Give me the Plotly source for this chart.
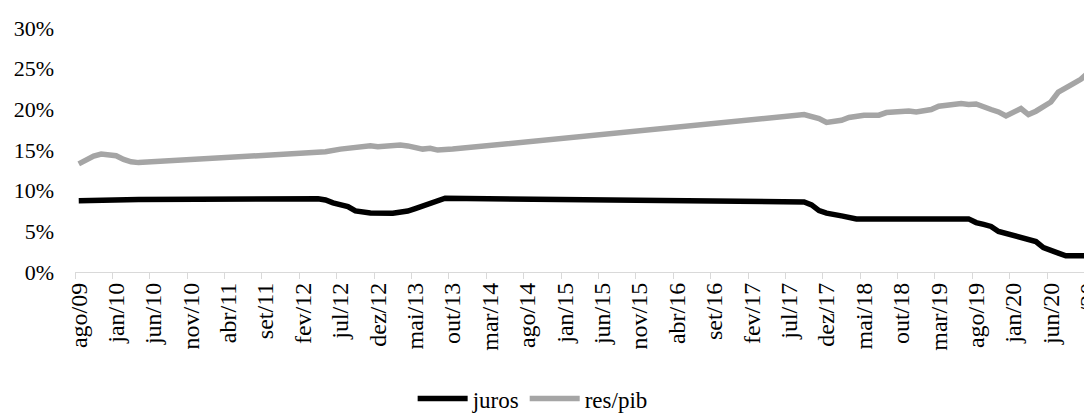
import plotly.graph_objects as go

# month categories (ago/09 .. nov/20)
mes_abrev = ["jan", "fev", "mar", "abr", "mai", "jun", "jul", "ago", "set", "out", "nov", "dez"]
categorias = []
for k in range(7, 7 + 136):
    categorias.append(f"{mes_abrev[k % 12]}/{(9 + k // 12):02d}")

tick_labels = ["ago/09", "jan/10", "jun/10", "nov/10", "abr/11", "set/11", "fev/12", "jul/12",
               "dez/12", "mai/13", "out/13", "mar/14", "ago/14", "jan/15", "jun/15", "nov/15",
               "abr/16", "set/16", "fev/17", "jul/17", "dez/17", "mai/18", "out/18", "mar/19",
               "ago/19", "jan/20", "jun/20", "nov/20"]

# juros (%), read at the vertices of the line
juros_meses = ["ago/09", "mar/10", "abr/10", "abr/12", "mai/12", "jun/12", "jul/12", "ago/12",
               "set/12", "out/12", "nov/12", "fev/13", "mar/13", "abr/13", "mai/13", "jun/13",
               "jul/13", "ago/13", "set/13", "set/17", "out/17", "nov/17", "dez/17", "fev/18",
               "abr/18", "jul/19", "ago/19", "set/19", "out/19", "nov/19", "dez/19", "jan/20",
               "fev/20", "mar/20", "abr/20", "mai/20", "jun/20", "jul/20", "ago/20", "nov/20"]
juros_valores = [8.77, 8.77, 8.9, 9.0, 8.86, 8.5, 8.25, 8.04,
                 7.51, 7.3, 7.25, 7.23, 7.3, 7.5, 7.8, 8.1,
                 8.46, 8.65, 9.07, 8.6, 8.25, 7.55, 7.23, 6.9,
                 6.53, 6.53, 6.08, 5.85, 5.6, 4.98, 4.75, 4.55,
                 4.3, 4.0, 3.75, 3.0, 2.6, 2.33, 2.0, 2.0]

# res/pib (%), read at the vertices of the line
res_meses = ["ago/09", "set/09", "out/09", "nov/09", "dez/09", "jan/10", "fev/10", "mar/10",
             "abr/10", "mai/12", "jul/12", "set/12", "nov/12", "dez/12", "mar/13", "abr/13",
             "jun/13", "jul/13", "ago/13", "out/13", "set/17", "nov/17", "dez/17", "fev/18",
             "mar/18", "mai/18", "jul/18", "ago/18", "nov/18", "dez/18", "fev/19", "mar/19",
             "mai/19", "jun/19", "jul/19", "ago/19", "out/19", "nov/19", "dez/19", "fev/20",
             "mar/20", "abr/20", "jun/20", "jul/20", "set/20", "out/20", "nov/20"]
res_valores = [13.3, 13.8, 14.25, 14.5, 14.45, 14.3, 13.85, 13.55,
               13.45, 14.78, 15.11, 15.39, 15.51, 15.39, 15.6, 15.5,
               15.11, 15.2, 14.99, 15.11, 19.36, 18.87, 18.38, 18.66,
               19.0, 19.28, 19.28, 19.6, 19.8, 19.68, 19.98, 20.38,
               20.5, 20.71, 20.59, 20.66, 19.98, 19.68, 19.19, 20.1,
               19.36, 19.77, 20.9, 22.13, 23.16, 23.69, 24.5]

FONT = "Liberation Serif, Times New Roman, serif"

# the page body keeps the browser's default 8px margin, so the figure is
# sized to end exactly at the window's right and bottom edges
fig = go.Figure()
fig.add_trace(go.Scatter(x=juros_meses, y=[v / 100 for v in juros_valores], name="juros",
                         mode="lines", line=dict(color="#000000", width=5.5)))
fig.add_trace(go.Scatter(x=res_meses, y=[v / 100 for v in res_valores], name="res/pib",
                         mode="lines", line=dict(color="#A5A5A5", width=5.5)))

fig.update_layout(
    width=1084, height=409,
    margin=dict(l=67.4, r=0, t=19.5, b=144.7, autoexpand=False),
    paper_bgcolor="white", plot_bgcolor="white",
    font=dict(family=FONT, size=20, color="#000000"),
    showlegend=True,
    legend=dict(orientation="h", x=0.450, xanchor="center",
                yref="container", y=0.045, yanchor="middle",
                font=dict(family=FONT, size=23, color="#000000"),
                bgcolor="rgba(0,0,0,0)", itemwidth=50, tracegroupgap=0),
    xaxis=dict(type="category", categoryorder="array", categoryarray=categorias,
               range=[-0.5, 135.5], tickmode="array", tickvals=tick_labels, ticktext=tick_labels,
               tickson="boundaries", ticks="outside", ticklen=6, tickcolor="#D9D9D9", tickwidth=1.3,
               showline=True, linecolor="#D9D9D9", linewidth=1.3, showgrid=False, zeroline=False,
               automargin=False,
               tickangle=-90, tickfont=dict(family=FONT, size=24, color="#000000")),
    yaxis=dict(range=[0, 0.30], tickvals=[0, 0.05, 0.10, 0.15, 0.20, 0.25, 0.30],
               tickformat=".0%", showgrid=False, zeroline=False, showline=False,
               ticks="", ticklabelstandoff=20, automargin=False,
               tickfont=dict(family=FONT, size=22, color="#000000")),
)

fig.write_html("out.html")
